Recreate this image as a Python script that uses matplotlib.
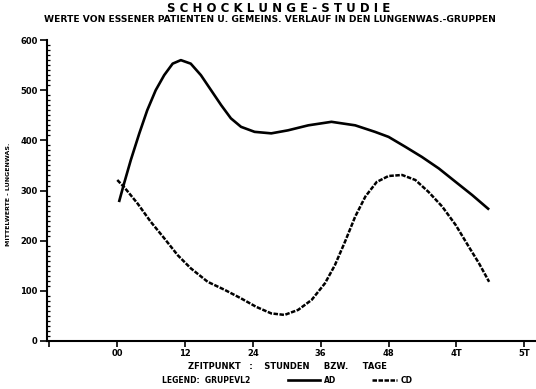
import matplotlib
matplotlib.use("Agg")
import matplotlib.pyplot as plt
from matplotlib.ticker import MultipleLocator

# values (x in hours)
ad_hours = [0.3, 1.2, 2.4, 3.9, 5.3, 6.8, 8.3, 9.8, 11.25, 13.0, 14.8, 16.6, 18.4, 20.1, 21.9,
            24.3, 27.25, 30.2, 33.8, 37.9, 42.1, 45.6, 48.0, 51.0, 53.9, 56.9, 59.9, 62.8, 65.8]
ad_values = [277, 314, 361, 414, 460, 500, 530, 553, 560, 553, 530, 500, 470, 444, 427,
             417, 414, 420, 430, 437, 430, 417, 407, 387, 367, 344, 317, 291, 262]

cd_hours = [0, 1.2, 3.6, 5.9, 8.3, 10.7, 13.0, 16.0, 19.0, 21.9, 24.6, 27.25, 29.6, 32.0, 34.4,
            36.75, 38.5, 40.3, 42.1, 43.9, 45.9, 48.0, 50.4, 52.75, 55.1, 57.5, 59.9, 62.2, 64.0, 65.8]
cd_values = [321, 307, 274, 238, 205, 171, 145, 118, 102, 85, 68, 55, 52, 62, 82,
             115, 151, 198, 248, 288, 317, 329, 331, 321, 297, 268, 231, 188, 155, 118]

x_ticks = [0, 12, 24, 36, 48, 60, 72]
x_labels = ["00", "12", "24", "36", "48", "4T", "5T"]
y_ticks = [0, 100, 200, 300, 400, 500, 600]

title = "S C H O C K L U N G E - S T U D I E"
subtitle = "WERTE VON ESSENER PATIENTEN U. GEMEINS. VERLAUF IN DEN LUNGENWAS.-GRUPPEN"

fnt = "DejaVu Sans"
dots = (0, (1.8, 0.6))

fig = plt.figure(figsize=(5.36, 3.89), dpi=100)
ax = fig.add_axes([0.087, 0.1234, 0.912, 0.7736])

ax.plot(ad_hours, ad_values, color="black", lw=1.9, solid_capstyle="butt", solid_joinstyle="round")
ax.plot(cd_hours, cd_values, color="black", lw=1.8, linestyle=dots)

ax.set_xlim(-12.5, 74)
ax.set_ylim(0, 600)
ax.spines["top"].set_visible(False)
ax.spines["right"].set_visible(False)
ax.spines["left"].set_linewidth(1.5)
ax.spines["bottom"].set_linewidth(1.5)

ax.set_xticks([-12] + x_ticks)
ax.set_xticklabels([""] + x_labels, fontsize=6, fontweight="bold", family=fnt)
ax.set_yticks(y_ticks)
ax.set_yticklabels([str(v) for v in y_ticks], fontsize=6, fontweight="bold", family=fnt)
ax.yaxis.set_minor_locator(MultipleLocator(10))
ax.tick_params(axis="y", which="major", length=5, width=1.2, direction="out", pad=1.5)
ax.tick_params(axis="y", which="minor", length=2.5, width=0.9, direction="in")
ax.tick_params(axis="x", which="major", length=4, width=1.2, direction="out", pad=2)

fig.text(0.52, 0.977, title, ha="center", va="center", fontsize=8.5,
         fontweight="bold", family=fnt)
fig.text(0.503, 0.951, subtitle, ha="center", va="center", fontsize=6.6,
         fontweight="bold", family=fnt)

fig.text(0.537, 0.057, "ZFITPUNKT   :    STUNDEN     BZW.     TAGE", ha="center", va="center",
         fontsize=6, fontweight="bold", family=fnt)

# legend row
fig.text(0.302, 0.021, "LEGEND:  GRUPEVL2", ha="left", va="center",
         fontsize=5.5, fontweight="bold", family=fnt)
fig.add_artist(plt.Line2D([0.537, 0.597], [0.022, 0.022], color="black", lw=1.9))
fig.text(0.604, 0.021, "AD", ha="left", va="center", fontsize=5.5, fontweight="bold", family=fnt)
fig.add_artist(plt.Line2D([0.694, 0.741], [0.022, 0.022], color="black", lw=1.8, linestyle=dots))
fig.text(0.748, 0.021, "CD", ha="left", va="center", fontsize=5.5, fontweight="bold", family=fnt)

fig.text(0.016, 0.5, "MITTELWERTE - LUNGENWAS.", rotation=90, ha="center", va="center",
         fontsize=4.5, fontweight="bold", family=fnt)

fig.savefig("out.png", dpi=100)
